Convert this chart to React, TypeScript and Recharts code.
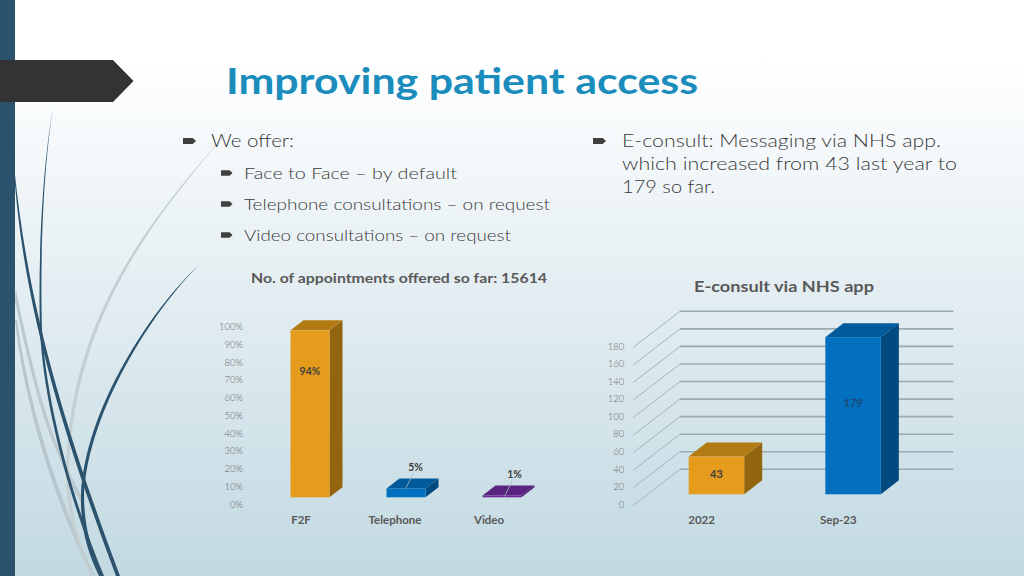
import React from 'react';
import { BarChart, Bar, XAxis, YAxis, CartesianGrid, LabelList } from 'recharts';

const FONT = 'Lato, "Open Sans", sans-serif';

const accessCategories = ['F2F', 'Telephone', 'Video'];
const accessShares = [94, 5, 1];
const accessTicks = [0, 10, 20, 30, 40, 50, 60, 70, 80, 90, 100];

const consultPeriods = ['2022', 'Sep-23'];
const consultCounts = [43, 179];
const consultTicks = [0, 20, 40, 60, 80, 100, 120, 140, 160, 180];

const accessData = accessCategories.map((name, i) => ({ name, value: accessShares[i] }));
const consultData = consultPeriods.map((name, i) => ({ name, value: consultCounts[i] }));

const ORANGE = { front: '#e59c1c', top: '#b27a12', side: '#94650f' };
const BLUE = { front: '#0270bf', top: '#005a9c', side: '#004a80' };
const PURPLE = { front: '#6a2a96', top: '#5a2380', side: '#4c1d6e' };
const accessColors = [ORANGE, BLUE, PURPLE];
const consultColors = [ORANGE, BLUE];

const bulletsTop = [
  { x: 183, y: 141, w: 13, h: 6 },
  { x: 593, y: 141, w: 13, h: 6 },
  { x: 221, y: 173, w: 11.5, h: 5.5 },
  { x: 221, y: 204, w: 11.5, h: 5.5 },
  { x: 221, y: 235, w: 11.5, h: 5.5 },
];

const Txt = ({ x, y, w, size, weight = 300, fill = '#3a3a3a', children }: any) => (
  <text x={x} y={y} fontSize={size} fontWeight={weight} fill={fill} fontFamily={FONT}
    dominantBaseline="central" textLength={w} lengthAdjust="spacingAndGlyphs">
    {children}
  </text>
);

const Backdrop = () => (
  <svg width={1024} height={576} style={{ position: 'absolute', left: 0, top: 0 }}>
    <rect x={0} y={0} width={15} height={576} fill="#2b536e" />
    <path d="M16 290 C 28 350, 45 420, 60 450 C 70 475, 78 490, 84 500 L 81 502 C 75 492, 66 477, 57 452 C 42 420, 26 355, 15 300 Z" fill="#bcc9ce" />
    <path d="M15 320 C 24 400, 50 490, 91 576 L 95 576 C 54 490, 28 400, 17 320 Z" fill="#b7c7cd" />
    <path d="M236 121 C 170 200, 70 300, 66 470 C 66 515, 77 545, 90 576 L 93 576 C 80 545, 70 515, 69 470 C 74 302, 171 201, 236 121 Z" fill="#c3cfd2" />
    <path d="M53 108 C 42 170, 38 260, 40 330 C 43 400, 69 500, 101 576 L 104 576 C 72 500, 46 400, 42 330 C 40 260, 43 170, 53 108 Z" fill="#2b536e" />
    <path d="M15 185 C 24 290, 50 400, 116 576 L 120 576 C 54 400, 27 290, 15 175 Z" fill="#2b536e" />
    <path d="M200 264 C 150 310, 85 410, 81 495 C 80 530, 89 555, 99 576 L 103 576 C 93 555, 84 530, 84 495 C 88 412, 152 311, 200 264 Z" fill="#2b536e" />
    <polygon points="0,60 113,60 133.5,81 113,102 0,102" fill="#333333" />
    {bulletsTop.map((b, i) => (
      <polygon key={i} fill="#404040"
        points={`${b.x},${b.y - b.h / 2} ${b.x + b.w * 0.75},${b.y - b.h / 2} ${b.x + b.w},${b.y} ${b.x + b.w * 0.75},${b.y + b.h / 2} ${b.x},${b.y + b.h / 2}`} />
    ))}
    <Txt x={226} y={80} w={472} size={36} weight={700} fill="#1b8dbd">Improving patient access</Txt>
    <Txt x={211} y={140} w={83} size={18}>We offer:</Txt>
    <Txt x={244} y={173} w={213} size={16.5}>Face to Face – by default</Txt>
    <Txt x={244} y={204} w={306} size={16.5}>Telephone consultations – on request</Txt>
    <Txt x={244} y={235} w={267} size={16.5}>Video consultations – on request</Txt>
    <Txt x={622} y={140} w={319} size={18}>E-consult: Messaging via NHS app.</Txt>
    <Txt x={622} y={163} w={335} size={18}>which increased from 43 last year to</Txt>
    <Txt x={622} y={186} w={93} size={18}>179 so far.</Txt>
    <Txt x={251} y={277} w={296} size={14} weight={700} fill="#595959">No. of appointments offered so far: 15614</Txt>
    <Txt x={694} y={285.5} w={180} size={16} weight={700} fill="#595959">E-consult via NHS app</Txt>
  </svg>
);

// front face + top + side, the whole box sits "lift" above the axis zero
const makeBox = (colors: any[], dx: number, dy: number, lift: number, shift: number) => (props: any) => {
  const { x, y, width, height, index } = props;
  const c = colors[index];
  const l = x + shift;
  const r = l + width;
  const t = y - lift;
  const b = y + height - lift;
  return (
    <g>
      <polygon points={`${r},${t} ${r + dx},${t - dy} ${r + dx},${b - dy} ${r},${b}`} fill={c.side} />
      <polygon points={`${l},${t} ${l + dx},${t - dy} ${r + dx},${t - dy} ${r},${t}`} fill={c.top} />
      <rect x={l} y={t} width={width} height={b - t} fill={c.front} />
    </g>
  );
};

const AccessLabel = (props: any) => {
  const { x, y, width, value, index } = props;
  const cx = x + width / 2;
  const top = y - 6.6;
  if (index === 0) {
    return <text x={cx} y={top + 40} textAnchor="middle" dominantBaseline="central" fontSize={10.5} fontWeight={700} fill="#404040" fontFamily={FONT}>{value}%</text>;
  }
  const lx = index === 1 ? 9.5 : 12.5;
  const ly = index === 1 ? -22 : -21.5;
  return (
    <g>
      <line x1={cx + lx - 2} y1={top + ly + 6} x2={cx + lx - 10} y2={top - (index === 1 ? 0 : -0.5)} stroke="#a9bcc4" strokeWidth={0.8} />
      <text x={cx + lx} y={top + ly} textAnchor="middle" dominantBaseline="central" fontSize={10.5} fontWeight={700} fill="#404040" fontFamily={FONT}>{value}%</text>
    </g>
  );
};

const ConsultLabel = (props: any) => {
  const { x, y, width, height, value, index } = props;
  const cx = x + width / 2 + 14.4;
  const cy = index === 0 ? y + height / 2 - 10 - 1.5 : y - 10 + 65;
  return <text x={cx} y={cy} textAnchor="middle" dominantBaseline="central" fontSize={11} fontWeight={700} fill={index === 0 ? '#404040' : '#1f4a70'} fontFamily={FONT}>{value}</text>;
};

const AccessTick = (props: any) => {
  const { x, y, payload, index } = props;
  return <text x={x - 8.5 - index * 2} y={y - 1} textAnchor="middle" dominantBaseline="central" fontSize={11.5} fontWeight={700} fill="#595959" fontFamily={FONT}>{payload.value}</text>;
};

const ConsultTick = (props: any) => {
  const { x, y, payload } = props;
  return <text x={x} y={y - 1} textAnchor="middle" dominantBaseline="central" fontSize={11.5} fontWeight={700} fill="#595959" fontFamily={FONT}>{payload.value}</text>;
};

// wall line: runs back from the axis, then across the rear of the plot
const WallLine = (props: any) => {
  const { x1, x2, y1 } = props;
  const bx = x1 + 46.7;
  const by = y1 - 35;
  return (
    <g>
      <line x1={x1} y1={y1 + 1} x2={bx} y2={by} stroke="#a3b5bc" strokeWidth={1} />
      <line x1={bx} y1={by} x2={x2 + 46.7} y2={by} stroke="#98abb2" strokeWidth={1.6} />
    </g>
  );
};

const tickStyle = { fontSize: 9.5, fontWeight: 300, fill: '#666666', fontFamily: FONT };

export default function App() {
  return (
    <div style={{ position: 'absolute', left: 0, top: 0, width: 1024, height: 576, overflow: 'hidden', background: 'linear-gradient(#ffffff 0, #ffffff 10%, #c2d9e2 100%)' }}>
      <Backdrop />
      <div style={{ position: 'absolute', left: 200, top: 310 }}>
        <BarChart width={360} height={220} data={accessData} barSize={39} margin={{ top: 16.7, right: 10.5, left: 1.5, bottom: 0 }}>
          <XAxis dataKey="name" height={25.7} axisLine={false} tickLine={false} tick={<AccessTick />} tickMargin={10} interval={0} />
          <YAxis type="number" domain={[0, 100]} ticks={accessTicks} width={60} axisLine={false} tickLine={false} tickMargin={12.5} tick={tickStyle} tickFormatter={(v: number) => `${v}%`} interval={0} />
          <Bar dataKey="value" isAnimationActive={false} shape={makeBox(accessColors, 13, 10, 7, 0)}>
            <LabelList dataKey="value" content={<AccessLabel />} />
          </Bar>
        </BarChart>
      </div>
      <div style={{ position: 'absolute', left: 590, top: 300 }}>
        <BarChart width={380} height={230} data={consultData} barSize={55.5} margin={{ top: 46.3, right: 63.4, left: 0, bottom: 0 }}>
          <CartesianGrid vertical={false} horizontal={(p: any) => <WallLine key={p.key} {...p} />} />
          <XAxis dataKey="name" height={25.7} axisLine={false} tickLine={false} tick={<ConsultTick />} tickMargin={10} interval={0} />
          <YAxis type="number" domain={[0, 180]} ticks={consultTicks} width={43.3} axisLine={false} tickLine={false} tickMargin={3} tick={tickStyle} interval={0} />
          <Bar dataKey="value" isAnimationActive={false} shape={makeBox(consultColors, 18, 14, 10, 14.4)}>
            <LabelList dataKey="value" content={<ConsultLabel />} />
          </Bar>
        </BarChart>
      </div>
    </div>
  );
}
